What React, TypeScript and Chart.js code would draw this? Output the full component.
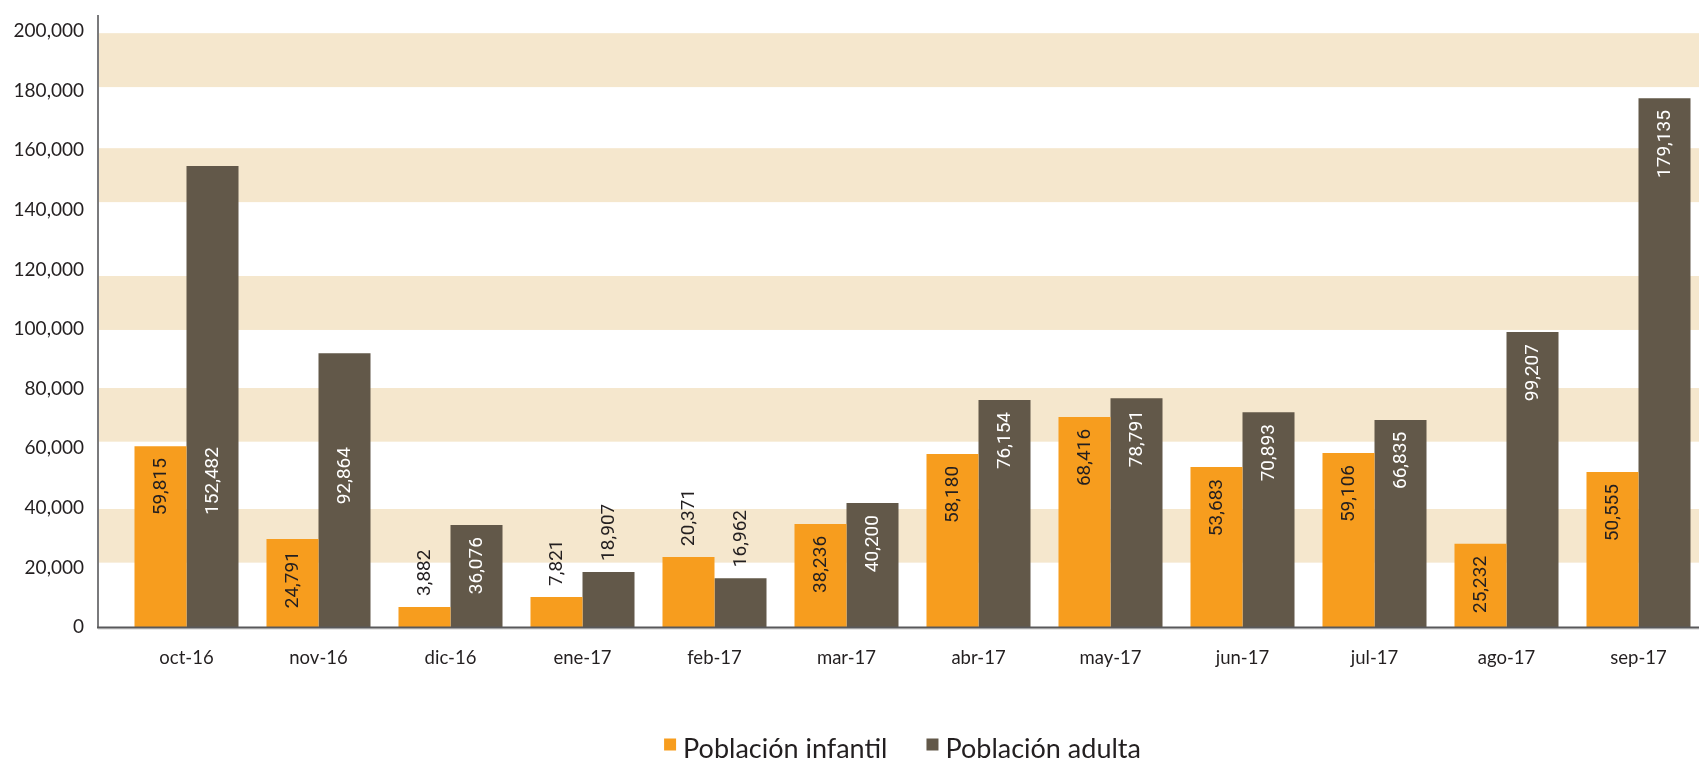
import React, { useEffect, useRef } from "react";
import { Chart, registerables } from "chart.js";

Chart.register(...registerables);

// ---------- data ----------
const categories = [
  "oct-16", "nov-16", "dic-16", "ene-17", "feb-17", "mar-17",
  "abr-17", "may-17", "jun-17", "jul-17", "ago-17", "sep-17",
];
const seriesNames = ["Población infantil", "Población adulta"];
// bar heights as drawn in the picture
const infantilValues = [60700, 29500, 6700, 10100, 23500, 34600, 58100, 70500, 53700, 58400, 27900, 52000];
const adultaValues = [154700, 91900, 34200, 18500, 16400, 41600, 76200, 76800, 72100, 69500, 99000, 177500];
// value labels as printed in the picture
const infantilLabels = ["59,815", "24,791", "3,882", "7,821", "20,371", "38,236", "58,180", "68,416", "53,683", "59,106", "25,232", "50,555"];
const adultaLabels = ["152,482", "92,864", "36,076", "18,907", "16,962", "40,200", "76,154", "78,791", "70,893", "66,835", "99,207", "179,135"];
// y axis tick values
const yTickValues = [0, 20000, 40000, 60000, 80000, 100000, 120000, 140000, 160000, 180000, 200000];
// shaded background bands (value ranges)
const bandLows = [181200, 142600, 99700, 62200, 21600];
const bandHighs = [199300, 160700, 117800, 80200, 39600];
const yMax = 205400;

// ---------- styles ----------
const ORANGE = "#F79D1E";
const DARK = "#625849";
const BAND = "#F5E7CD";
const TEXT = "#231f20";
const AXIS_INSET = 22.5; // y axis line sits this far left of the plot area

const labelSets = [infantilLabels, adultaLabels];
// labels whose top is pinned to a given value level instead of the bar top
const pinnedLabelTop: Record<string, number> = { "1-0": 60400, "1-1": 60400 };

const bandsPlugin = {
  id: "bands",
  beforeDatasetsDraw(chart: any) {
    const { ctx, chartArea, scales } = chart;
    const y = scales.y;
    const left = chartArea.left - AXIS_INSET;
    ctx.save();
    ctx.fillStyle = BAND;
    bandLows.forEach((lo, i) => {
      const top = y.getPixelForValue(bandHighs[i]);
      const bot = y.getPixelForValue(lo);
      ctx.fillRect(left, top, chart.width - left, bot - top);
    });
    ctx.restore();
  },
};

const axesPlugin = {
  id: "axesLines",
  afterDatasetsDraw(chart: any) {
    const { ctx, chartArea, scales } = chart;
    const y0 = scales.y.getPixelForValue(0);
    const left = chartArea.left - AXIS_INSET;
    ctx.save();
    ctx.strokeStyle = "#7a7a7c";
    ctx.lineWidth = 2;
    ctx.beginPath();
    ctx.moveTo(left, chartArea.top);
    ctx.lineTo(left, y0 + 1);
    ctx.stroke();
    ctx.strokeStyle = "#d0d0d0";
    ctx.lineWidth = 1;
    ctx.beginPath();
    ctx.moveTo(left, y0 + 2);
    ctx.lineTo(chart.width, y0 + 2);
    ctx.stroke();
    ctx.strokeStyle = "#58585a";
    ctx.lineWidth = 2;
    ctx.beginPath();
    ctx.moveTo(left - 1, y0 + 0.5);
    ctx.lineTo(chart.width, y0 + 0.5);
    ctx.stroke();
    ctx.restore();
  },
};

const valueLabelsPlugin = {
  id: "valueLabels",
  afterDatasetsDraw(chart: any) {
    const { ctx, scales } = chart;
    ctx.save();
    ctx.font = "19px Roboto";
    ctx.textAlign = "center";
    ctx.textBaseline = "middle";
    chart.data.datasets.forEach((ds: any, di: number) => {
      const meta = chart.getDatasetMeta(di);
      meta.data.forEach((bar: any, i: number) => {
        const text = labelSets[di][i];
        const w = ctx.measureText(text).width;
        const top = bar.y;
        const base = bar.base;
        const h = base - top;
        let cy: number;
        let color = TEXT;
        const pin = pinnedLabelTop[`${di}-${i}`];
        if (pin !== undefined) {
          cy = scales.y.getPixelForValue(pin) + w / 2;
          color = di === 1 ? "#ffffff" : TEXT;
        } else if (h >= w + 22) {
          cy = top + 12 + w / 2;
          color = di === 1 ? "#ffffff" : TEXT;
        } else {
          cy = top - 11 - w / 2;
          color = TEXT;
        }
        ctx.save();
        ctx.fillStyle = color;
        ctx.translate(bar.x, cy);
        ctx.rotate(-Math.PI / 2);
        ctx.fillText(text, 0, 1);
        ctx.restore();
      });
    });
    ctx.restore();
  },
};

const legendPlugin = {
  id: "customLegend",
  afterDraw(chart: any) {
    const { ctx, chartArea } = chart;
    const box = 12;
    const gap = 7;
    const itemGap = 39;
    ctx.save();
    ctx.font = "27px Lato";
    const items = chart.data.datasets.map((ds: any) => ({
      text: ds.label,
      color: ds.backgroundColor,
      w: ctx.measureText(ds.label).width,
    }));
    const total =
      items.reduce((s: number, it: any) => s + box + gap + it.w, 0) + itemGap * (items.length - 1);
    const center = (chartArea.left + chartArea.right) / 2 - 10;
    let x = center - total / 2;
    const baseline = 757.5;
    ctx.textAlign = "left";
    ctx.textBaseline = "alphabetic";
    items.forEach((it: any) => {
      ctx.fillStyle = it.color;
      ctx.fillRect(x, 738.5, box, box);
      x += box + gap;
      ctx.fillStyle = TEXT;
      ctx.fillText(it.text, x, baseline);
      x += it.w + itemGap;
    });
    ctx.restore();
  },
};

export default function App() {
  const canvasRef = useRef<HTMLCanvasElement | null>(null);

  useEffect(() => {
    if (!canvasRef.current) return;
    const chart = new Chart(canvasRef.current, {
      type: "bar",
      data: {
        labels: categories,
        datasets: [
          {
            label: seriesNames[0],
            data: infantilValues,
            backgroundColor: ORANGE,
            borderWidth: 0,
            categoryPercentage: 0.788,
            barPercentage: 1,
          },
          {
            label: seriesNames[1],
            data: adultaValues,
            backgroundColor: DARK,
            borderWidth: 0,
            categoryPercentage: 0.788,
            barPercentage: 1,
          },
        ],
      },
      options: {
        responsive: false,
        animation: false,
        devicePixelRatio: 1,
        layout: { padding: { top: 15, right: 15.5, left: 0, bottom: 0 } },
        plugins: {
          legend: { display: false },
          tooltip: { enabled: false },
        },
        scales: {
          x: {
            grid: { display: false, drawTicks: false },
            border: { display: false },
            ticks: {
              font: { family: "Lato", size: 18.5 },
              color: TEXT,
              padding: 20,
              maxRotation: 0,
              autoSkip: false,
            },
            afterFit(scale: any) {
              scale.height = 134;
              scale.paddingLeft = 0;
              scale.paddingRight = 0;
            },
          },
          y: {
            min: 0,
            max: yMax,
            grid: { display: false, drawTicks: false },
            border: { display: false },
            ticks: {
              font: { family: "Lato", size: 19 },
              color: TEXT,
              padding: 36.5,
              callback: (v: any) => Number(v).toLocaleString("en-US"),
            },
            afterBuildTicks(scale: any) {
              scale.ticks = yTickValues.map((v) => ({ value: v }));
            },
            afterFit(scale: any) {
              scale.width = 120.5;
              scale.paddingTop = 0;
              scale.paddingBottom = 0;
            },
          },
        },
      } as any,
      plugins: [bandsPlugin, axesPlugin, valueLabelsPlugin, legendPlugin],
    });
    return () => chart.destroy();
  }, []);

  return (
    <div
      style={{
        position: "absolute",
        left: 0,
        top: 0,
        width: 1699,
        height: 761,
        overflow: "hidden",
        background: "#ffffff",
      }}
    >
      <canvas ref={canvasRef} width={1720} height={761} style={{ display: "block" }} />
    </div>
  );
}
